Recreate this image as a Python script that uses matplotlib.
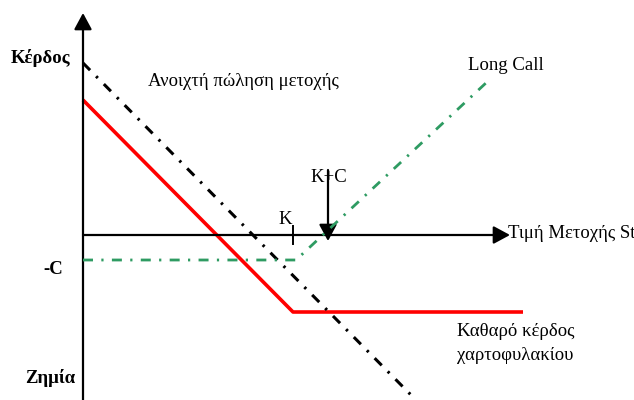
import matplotlib
matplotlib.use("Agg")
import matplotlib.pyplot as plt

# Payoff diagram data (value units, origin at axis crossing)
K = 210
C = 25
K_plus_C = 245
short_x = [0, 330]
short_y = [172, -162]
net_x = [0, K, 440]
net_y = [135, -77, -77]
call_x = [0, 213, 404]
call_y = [-C, -C, 153]

labels = {
    "profit": "Κέρδος",
    "loss": "Ζημία",
    "short": "Ανοιχτή πώληση μετοχής",
    "call": "Long Call",
    "kc": "K+C",
    "k": "K",
    "xlabel": "Τιμή Μετοχής St",
    "mc": "-C",
    "net1": "Καθαρό κέρδος",
    "net2": "χαρτοφυλακίου",
}

plt.rcParams['font.family'] = ['Liberation Serif', 'DejaVu Serif']

fig = plt.figure(figsize=(6.34, 4.0), dpi=100)
ax = fig.add_axes([0, 0, 1, 1])
ax.set_xlim(-83, 551)
ax.set_ylim(-165, 235)
ax.axis('off')

arrow = dict(arrowstyle='-|>,head_length=0.5,head_width=0.27', mutation_scale=20,
             lw=1.6, color='black', shrinkA=0, shrinkB=0)
# axes
ax.annotate('', xy=(427, 0), xytext=(0, 0), arrowprops=arrow)
ax.annotate('', xy=(0, 222), xytext=(0, -170), arrowprops=arrow)
# K+C arrow
ax.annotate('', xy=(K_plus_C, -6), xytext=(K_plus_C, 65), arrowprops=arrow)
# K tick
ax.plot([K, K], [9, -9], color='black', lw=1.4)

# lines
ax.plot(short_x, short_y, color='black', lw=2.2, dashes=(3.3, 2.8, 0.8, 2.8), zorder=3)
ax.plot(net_x, net_y, color='#ff0000', lw=2.6, solid_capstyle='butt', zorder=2)
ax.plot(call_x, call_y, color='#2e9b62', lw=2.0, dashes=(3.6, 3, 0.8, 3), zorder=3)

fs = 13.5
ax.text(-13, 177, labels["profit"], ha='right', va='center', fontsize=fs, fontweight='bold')
ax.text(-8, -143, labels["loss"], ha='right', va='center', fontsize=fs, fontweight='bold')
ax.text(-20, -35, labels["mc"], ha='right', va='center', fontsize=fs, fontweight='bold')
ax.text(65, 153, labels["short"], ha='left', va='center', fontsize=fs)
ax.text(385, 169, labels["call"], ha='left', va='center', fontsize=fs)
ax.text(246, 57, labels["kc"], ha='center', va='center', fontsize=fs)
ax.text(202, 16, labels["k"], ha='center', va='center', fontsize=fs)
ax.text(425, 1, labels["xlabel"], ha='left', va='center', fontsize=fs)
ax.text(374, -96, labels["net1"], ha='left', va='center', fontsize=fs)
ax.text(374, -121, labels["net2"], ha='left', va='center', fontsize=fs)

fig.savefig('out.png', dpi=100, facecolor='white')
